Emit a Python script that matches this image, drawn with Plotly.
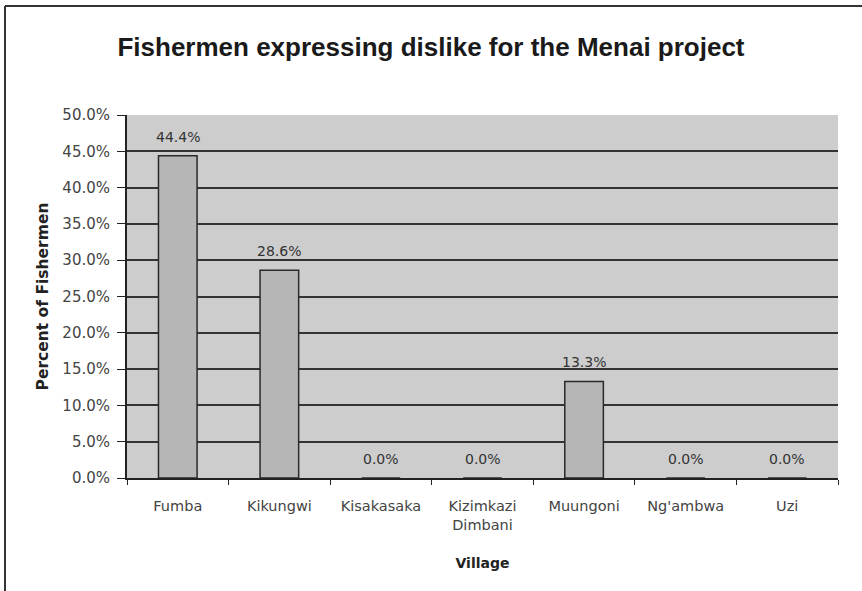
import plotly.graph_objects as go

villages = ["Fumba", "Kikungwi", "Kisakasaka", "Kizimkazi<br>Dimbani", "Muungoni", "Ng'ambwa", "Uzi"]
percent = [44.4, 28.6, 0.0, 0.0, 13.3, 0.0, 0.0]
y_ticks = [0, 5, 10, 15, 20, 25, 30, 35, 40, 45, 50]

W, H = 862, 591
L, R, T, B = 127, 24, 115, 113
pw, ph = W - L - R, H - T - B
TITLE_FONT = "Liberation Sans, Arial"
FONT = "DejaVu Sans"

def px_x(p):
    return (p - L) / pw

def px_y(p):
    return (H - B - p) / ph

fig = go.Figure(go.Bar(
    x=villages,
    y=percent,
    marker=dict(color="#b6b6b6", line=dict(color="#2a2a2a", width=1.5)),
    cliponaxis=False,
))

# value labels sitting a little above each bar
for v, p in zip(villages, percent):
    fig.add_annotation(
        x=v, y=p, xref="x", yref="y",
        text=f"{p:.1f}%", showarrow=False,
        yanchor="bottom", yshift=9,
        font=dict(family=FONT, size=14, color="#333333"),
    )

fig.update_layout(
    width=W, height=H,
    margin=dict(l=L, r=R, t=T, b=B),
    paper_bgcolor="white",
    plot_bgcolor="#cdcdcd",
    bargap=0.62,
    showlegend=False,
    title=dict(
        text="<b>Fishermen expressing dislike for the Menai project</b>",
        x=0.5, xanchor="center", y=1 - 47 / H, yanchor="middle",
        font=dict(family=TITLE_FONT, size=26, color="#1a1a1a"),
    ),
    font=dict(family=FONT, size=14, color="#333333"),
    xaxis=dict(
        title=dict(text="<b>Village</b>", font=dict(size=14, color="#222222"), standoff=26),
        showline=True, linecolor="#222222", linewidth=2,
        ticks="outside", ticklen=5, tickcolor="#222222", tickson="boundaries",
        ticklabelstandoff=14,
        tickfont=dict(size=14.5, color="#444444"),
        showgrid=False,
    ),
    yaxis=dict(
        title=dict(text="<b>Percent of Fishermen</b>", font=dict(size=15.5, color="#222222"), standoff=10),
        range=[0, 50],
        tickvals=y_ticks,
        ticktext=[f"{v:.1f}%" for v in y_ticks],
        showline=True, linecolor="#222222", linewidth=2,
        ticks="outside", ticklen=8, tickcolor="#222222",
        ticklabelstandoff=4,
        tickfont=dict(size=15, color="#444444"),
        showgrid=True, gridcolor="#333333", gridwidth=2,
        zeroline=False,
    ),
    shapes=[
        dict(type="line", xref="paper", yref="paper",
             x0=px_x(5), x1=px_x(W + 2), y0=px_y(6), y1=px_y(6),
             line=dict(color="#333333", width=2)),
        dict(type="line", xref="paper", yref="paper",
             x0=px_x(5), x1=px_x(5), y0=px_y(6), y1=px_y(H + 2),
             line=dict(color="#333333", width=2)),
    ],
)

fig.write_html("out.html")
